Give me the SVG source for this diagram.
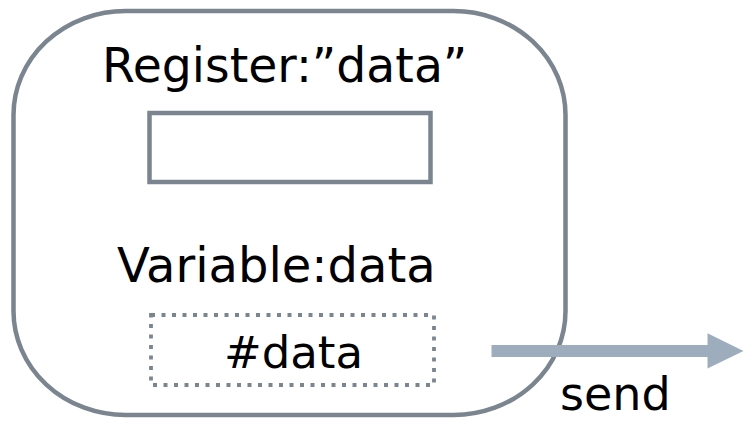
<svg xmlns="http://www.w3.org/2000/svg" width="744" height="423" viewBox="0 0 744 423">
  <style>
    .label { font-family: "DejaVu Sans", Verdana, sans-serif; fill: #000000; }
    .frame { fill: none; stroke: #7b858f; }
    .flow { fill: #9dadbd; }
  </style>
  <rect width="744" height="423" fill="#ffffff"/>

  <!-- Process container -->
  <g id="process">
    <rect class="frame" x="13.5" y="11" width="552" height="404" rx="112" ry="104" stroke-width="4.5"/>
  </g>

  <!-- Register slot -->
  <g id="register">
    <text class="label" x="102" y="82" font-size="47.3">Register:”data”</text>
    <rect class="frame" x="149.5" y="113" width="281" height="69" stroke-width="4.5"/>
  </g>

  <!-- Variable slot -->
  <g id="variable">
    <text class="label" x="117" y="282" font-size="48">Variable:data</text>
    <rect class="frame" x="151" y="315" width="283" height="70" stroke-width="3.8" stroke-dasharray="4 6.5"/>
    <text class="label" x="224" y="368" font-size="45">#data</text>
  </g>

  <!-- Outgoing message -->
  <g id="connectors">
    <rect class="flow" x="491.5" y="345" width="218" height="12"/>
    <polygon class="flow" points="707.5,333.3 743.5,351 707.5,368.5"/>
    <text class="label" x="560" y="410" font-size="46">send</text>
  </g>
</svg>
